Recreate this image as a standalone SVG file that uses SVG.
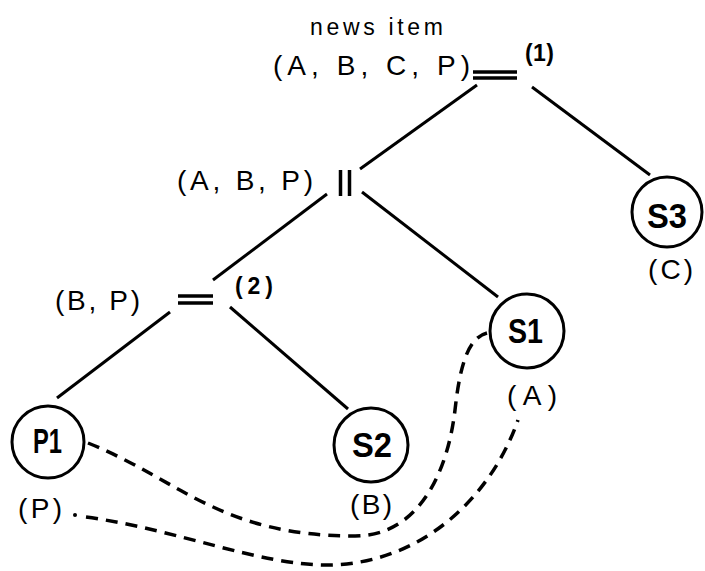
<svg xmlns="http://www.w3.org/2000/svg" width="705" height="571" viewBox="0 0 705 571">
  <style>
    .edge { stroke: #000; stroke-width: 3; fill: none; stroke-linecap: butt; }
    .dash { stroke: #000; stroke-width: 3.5; fill: none; stroke-dasharray: 12 8; }
    .op { stroke: #000; stroke-width: 3.5; fill: none; }
    .circ { stroke: #000; stroke-width: 3; fill: #fff; }
    .lbl { font-family: "Liberation Sans", Arial, sans-serif; font-size: 28px; fill: #000; }
    .small { font-family: "Liberation Sans", Arial, sans-serif; font-size: 23px; fill: #000; }
    .num { font-family: "Liberation Sans", Arial, sans-serif; font-size: 23px; font-weight: bold; fill: #000; }
    .name { font-family: "Liberation Sans", Arial, sans-serif; font-size: 35px; font-weight: bold; fill: #000; }
  </style>
  <rect width="705" height="571" fill="#fff"/>

  <g id="connectors">
    <line class="edge" x1="477" y1="85" x2="360" y2="169"/>
    <line class="edge" x1="532" y1="87" x2="650" y2="175"/>
    <line class="edge" x1="327" y1="194" x2="213" y2="280"/>
    <line class="edge" x1="362" y1="192" x2="498" y2="297"/>
    <line class="edge" x1="170" y1="312" x2="57" y2="398"/>
    <line class="edge" x1="230" y1="307" x2="348" y2="409"/>
    <path class="dash" d="M 88 443 C 180 480, 220 536, 355 536 C 420 536, 448 470, 455 410 C 460 365, 468 338, 487 333"/>
    <circle cx="75" cy="515" r="2" fill="#000"/>
    <path class="dash" d="M 86 517 C 180 530, 260 566, 330 565 C 420 563, 490 500, 518 420"/>
  </g>

  <g id="root">
    <text class="small" x="310" y="35" textLength="133" lengthAdjust="spacing">news item</text>
    <text class="lbl" x="273" y="75" textLength="197" lengthAdjust="spacing">(A, B, C, P)</text>
    <line class="op" x1="473" y1="72" x2="517" y2="72"/>
    <line class="op" x1="473" y1="78" x2="517" y2="78"/>
    <text class="num" x="525" y="61" textLength="29" lengthAdjust="spacing">(1)</text>
  </g>

  <g id="parallel">
    <text class="lbl" x="177" y="190" textLength="136" lengthAdjust="spacing">(A, B, P)</text>
    <line class="op" x1="340.5" y1="170" x2="340.5" y2="196" stroke-width="4"/>
    <line class="op" x1="349.5" y1="170" x2="349.5" y2="196" stroke-width="4"/>
  </g>

  <g id="seq2">
    <text class="lbl" x="55" y="310" textLength="85" lengthAdjust="spacing">(B, P)</text>
    <line class="op" x1="178" y1="296" x2="213" y2="296"/>
    <line class="op" x1="178" y1="303" x2="213" y2="303"/>
    <text class="num" x="235" y="294" textLength="38" lengthAdjust="spacing">(2)</text>
  </g>

  <g id="P1">
    <circle class="circ" cx="48" cy="442" r="36"/>
    <text class="name" x="33" y="453" textLength="29" lengthAdjust="spacingAndGlyphs">P1</text>
    <text class="lbl" x="18" y="518" textLength="44" lengthAdjust="spacing">(P)</text>
  </g>

  <g id="S2">
    <circle class="circ" cx="371" cy="445" r="37"/>
    <text class="name" x="352" y="457" textLength="40" lengthAdjust="spacingAndGlyphs">S2</text>
    <text class="lbl" x="350" y="514" textLength="42" lengthAdjust="spacing">(B)</text>
  </g>

  <g id="S1">
    <circle class="circ" cx="527" cy="331" r="37"/>
    <text class="name" x="508" y="343" textLength="35" lengthAdjust="spacingAndGlyphs">S1</text>
    <text class="lbl" x="507" y="405" textLength="50" lengthAdjust="spacing">(A)</text>
  </g>

  <g id="S3">
    <circle class="circ" cx="667" cy="212" r="35"/>
    <text class="name" x="647" y="228" textLength="40" lengthAdjust="spacingAndGlyphs">S3</text>
    <text class="lbl" x="648" y="279" textLength="45" lengthAdjust="spacing">(C)</text>
  </g>
</svg>
